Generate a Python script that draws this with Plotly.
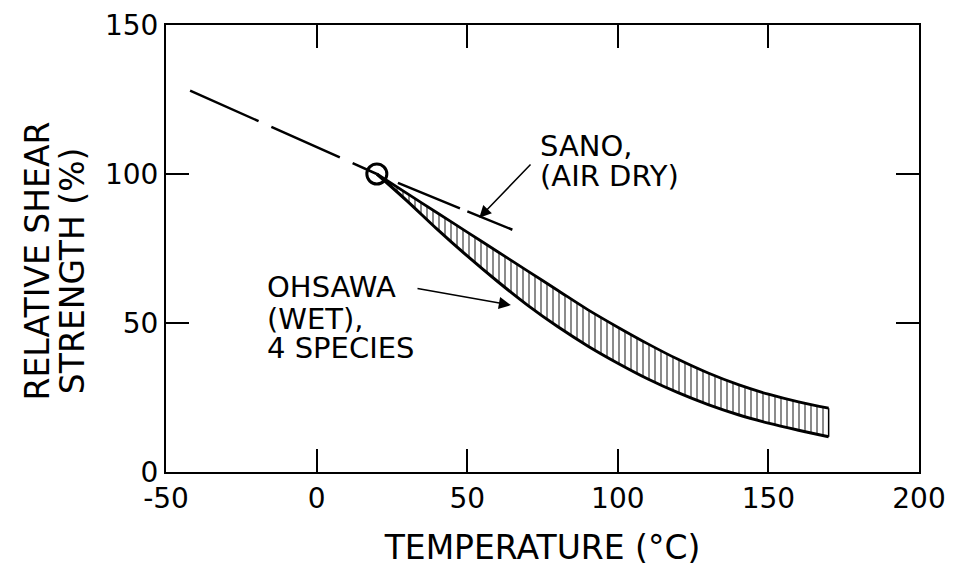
import plotly.graph_objects as go

# Ohsawa (wet), 4 species: band of relative shear strength (%) vs temperature (°C)
band_temp = [20, 30, 40, 50, 60, 70, 80, 90, 100, 110, 120, 130, 140, 150, 160, 170]
band_upper = [100, 93.5, 87.0, 80.5, 74.0, 67.5, 61.0, 54.5, 48.6, 43.0, 37.8, 33.2, 29.3, 26.1, 23.5, 21.4]
band_lower = [100, 91.0, 81.5, 72.5, 64.0, 56.0, 48.8, 42.3, 36.5, 31.2, 26.6, 22.6, 19.2, 16.4, 14.0, 11.8]

# dashed extrapolation below room temperature
extrap_temp = [-42, 20]
extrap_strength = [128, 100]

# Sano (air dry)
sano_temp = [27, 65]
sano_strength = [97, 81.3]

# reference point (20 °C = 100 %)
ref_temp = [20]
ref_strength = [100]

x_tickvals = [-50, 0, 50, 100, 150, 200]
x_ticktext = ["-50", "0", "50", "100", "150", "200"]
y_tickvals = [0, 50, 100, 150]

FONT = "DejaVu Sans"

fig = go.Figure()

# band: lower edge first, upper edge filled down to it with vertical hatching
fig.add_trace(go.Scatter(
    x=band_temp, y=band_lower, mode="lines",
    line=dict(color="black", width=3, shape="spline"),
    showlegend=False, hoverinfo="skip"
))
fig.add_trace(go.Scatter(
    x=band_temp, y=band_upper, mode="lines",
    line=dict(color="black", width=2.8, shape="spline"),
    fill="tonexty", fillcolor="white",
    fillpattern=dict(shape="|", size=6, solidity=0.3, fgcolor="black", bgcolor="white"),
    showlegend=False, hoverinfo="skip"
))
# closing edge at the right end of the band
fig.add_trace(go.Scatter(
    x=[band_temp[-1], band_temp[-1]], y=[band_lower[-1], band_upper[-1]], mode="lines",
    line=dict(color="black", width=1.5),
    showlegend=False, hoverinfo="skip"
))

fig.add_trace(go.Scatter(
    x=extrap_temp, y=extrap_strength, mode="lines",
    line=dict(color="black", width=2.5, dash="75px,14px"),
    showlegend=False, hoverinfo="skip"
))

fig.add_trace(go.Scatter(
    x=sano_temp, y=sano_strength, mode="lines",
    line=dict(color="black", width=2.5, dash="67px,8px"),
    showlegend=False, hoverinfo="skip"
))

fig.add_trace(go.Scatter(
    x=ref_temp, y=ref_strength, mode="markers",
    marker=dict(symbol="circle-open", size=20, color="black", line=dict(width=3)),
    showlegend=False, hoverinfo="skip"
))

label_font = dict(family=FONT, size=29, color="black")

# Sano label + arrow
fig.add_annotation(x=73.5, y=109.5, text="SANO,", showarrow=False,
                   xanchor="left", yanchor="middle", font=label_font)
fig.add_annotation(x=73.5, y=99.3, text="(AIR DRY)", showarrow=False,
                   xanchor="left", yanchor="middle", font=label_font)
fig.add_annotation(x=54, y=85.3, ax=71.5, ay=103.7, axref="x", ayref="y",
                   xref="x", yref="y", text="", showarrow=True,
                   arrowhead=2, arrowsize=1.6, arrowwidth=1.5, arrowcolor="black")

# Ohsawa label + arrow
fig.add_annotation(x=-17, y=62, text="OHSAWA", showarrow=False,
                   xanchor="left", yanchor="middle", font=label_font)
fig.add_annotation(x=-17, y=51.5, text="(WET),", showarrow=False,
                   xanchor="left", yanchor="middle", font=label_font)
fig.add_annotation(x=-17, y=41.5, text="4 SPECIES", showarrow=False,
                   xanchor="left", yanchor="middle", font=label_font)
fig.add_annotation(x=64.5, y=56, ax=33, ay=61.7, axref="x", ayref="y",
                   xref="x", yref="y", text="", showarrow=True,
                   arrowhead=2, arrowsize=1.6, arrowwidth=1.5, arrowcolor="black")

# y-axis title, two left-aligned rotated lines
fig.add_annotation(x=-0.171, y=0.155, xref="paper", yref="paper", text="RELATIVE SHEAR",
                   textangle=-90, showarrow=False, xanchor="center", yanchor="bottom",
                   font=dict(family=FONT, size=33, color="black"))
fig.add_annotation(x=-0.124, y=0.17, xref="paper", yref="paper", text="STRENGTH (%)",
                   textangle=-90, showarrow=False, xanchor="center", yanchor="bottom",
                   font=dict(family=FONT, size=33, color="black"))

axis_common = dict(
    showgrid=False, zeroline=False, showline=True, linecolor="black", linewidth=2,
    mirror="ticks", ticks="inside", ticklen=23, tickwidth=2, tickcolor="black",
    tickfont=dict(family=FONT, size=28, color="black"),
)

fig.update_xaxes(range=[-50, 200], tickmode="array", tickvals=x_tickvals, ticktext=x_ticktext,
                 title=dict(text="TEMPERATURE (°C)", font=dict(family=FONT, size=33, color="black"),
                            standoff=22),
                 **axis_common)
fig.update_yaxes(range=[0, 150], tickmode="array", tickvals=y_tickvals, **axis_common)

# page body keeps its default 8px margin, so the figure is 8px smaller than the window
fig.update_layout(
    width=946, height=559,
    margin=dict(l=158, r=35, t=17, b=95, autoexpand=False),
    plot_bgcolor="white", paper_bgcolor="white",
    showlegend=False,
)

fig.write_html("out.html")
